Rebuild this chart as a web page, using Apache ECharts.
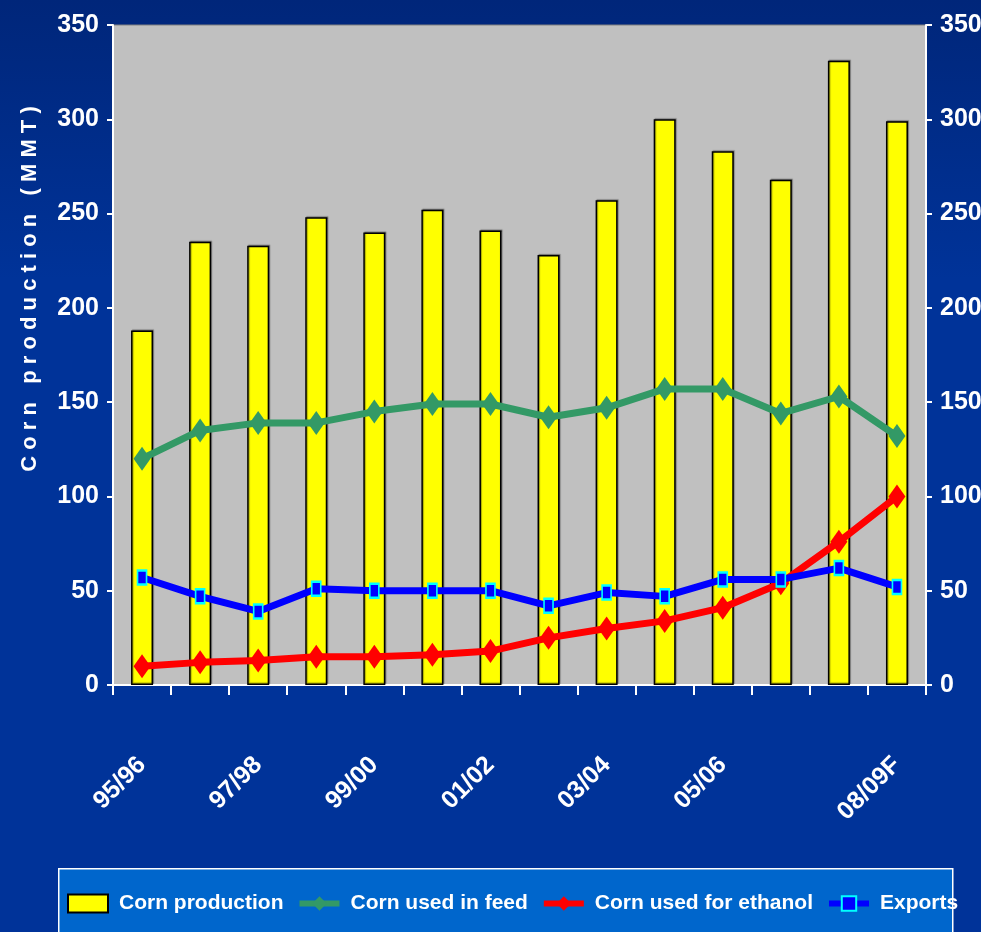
<!DOCTYPE html>
<html>
<head>
<meta charset="utf-8">
<script src="https://cdn.jsdelivr.net/npm/echarts@6/dist/echarts.min.js"></script>
<style>
  html, body { margin: 0; padding: 0; overflow: hidden; }
  #chart { width: 981px; height: 932px; }
</style>
</head>
<body>
<div id="chart"></div>
<script>
const seasons = ['95/96', '96/97', '97/98', '98/99', '99/00', '00/01', '01/02',
  '02/03', '03/04', '04/05', '05/06', '06/07', '07/08', '08/09F']
const production = [188, 235, 233, 248, 240, 252, 241, 228, 257, 300, 283, 268, 331, 299]
const feed = [120, 135, 139, 139, 145, 149, 149, 142, 147, 157, 157, 144, 153, 132]
const ethanol = [10, 12, 13, 15, 15, 16, 18, 25, 30, 34, 41, 54, 76, 100]
const exportsData = [57, 47, 39, 51, 50, 50, 50, 42, 49, 47, 56, 56, 62, 52]
const yTicks = [0, 50, 100, 150, 200, 250, 300, 350]

const FONT = '"Liberation Sans", Arial, sans-serif'
// labels shown in the original: every other season plus the last one
const shownLabels = ['95/96', '97/98', '99/00', '01/02', '03/04', '05/06', '08/09F']

const chart = echarts.init(document.getElementById('chart'))

const yAxisBase = {
  type: 'value',
  min: yTicks[0],
  max: yTicks[yTicks.length - 1],
  interval: 50,
  splitLine: { show: false },
  axisLine: { show: true, lineStyle: { color: '#ffffff', width: 2 } },
  axisTick: { show: true, length: 6, lineStyle: { color: '#ffffff', width: 2 } },
  axisLabel: {
    color: '#ffffff', fontSize: 25, fontWeight: 'bold', fontFamily: FONT, margin: 14
  }
}

chart.setOption({
  backgroundColor: {
    type: 'linear', x: 0, y: 0, x2: 0, y2: 1,
    colorStops: [
      { offset: 0, color: '#00267a' },
      { offset: 0.3, color: '#003399' },
      { offset: 1, color: '#003399' }
    ]
  },
  graphic: [
    {
      type: 'rect',
      left: 58, top: 868,
      shape: { width: 894, height: 80 },
      style: { fill: '#0066cc', stroke: '#ffffff', lineWidth: 1.5 },
      z: 0
    },
    {
      type: 'text',
      x: 30, y: 289,
      rotation: Math.PI / 2,
      style: {
        text: 'C o r n   p r o d u c t i o n   ( M M T )',
        fill: '#ffffff',
        font: 'bold 22px ' + FONT,
        align: 'center',
        verticalAlign: 'middle'
      }
    }
  ],
  legend: {
    left: 62,
    top: 888,
    itemWidth: 40,
    itemHeight: 18,
    itemGap: 13,
    lineStyle: { width: 6 },
    textStyle: {
      color: '#ffffff', fontSize: 21, fontWeight: 'bold', fontFamily: FONT,
      padding: [0, 0, 0, 6]
    },
    data: [
      { name: 'Corn production', icon: 'rect' },
      'Corn used in feed',
      'Corn used for ethanol',
      'Exports'
    ]
  },
  grid: {
    left: 113,
    right: 55,
    top: 25,
    bottom: 247,
    outerBoundsMode: 'none',
    containLabel: false,
    show: true,
    backgroundColor: '#c0c0c0',
    borderColor: '#808080',
    borderWidth: 1
  },
  xAxis: {
    type: 'category',
    data: seasons,
    axisLine: { show: true, lineStyle: { color: '#ffffff', width: 2 } },
    axisTick: { show: true, interval: 0, length: 10, lineStyle: { color: '#ffffff', width: 2 } },
    axisLabel: {
      color: '#ffffff',
      fontSize: 25,
      fontWeight: 'bold',
      fontFamily: FONT,
      rotate: 45,
      margin: 76,
      interval: (i, v) => shownLabels.indexOf(v) !== -1
    }
  },
  yAxis: [
    Object.assign({}, yAxisBase, { position: 'left' }),
    Object.assign({}, yAxisBase, { position: 'right' })
  ],
  series: [
    {
      name: 'Corn production',
      type: 'bar',
      data: production,
      barWidth: 22,
      itemStyle: {
        color: '#ffff00',
        borderColor: '#000000',
        borderWidth: 1.5,
        shadowColor: 'rgba(0,0,0,0.35)',
        shadowOffsetX: 1,
        shadowOffsetY: -1,
        shadowBlur: 1
      },
      z: 2
    },
    {
      name: 'Corn used in feed',
      type: 'line',
      data: feed,
      symbol: 'diamond',
      symbolSize: [17, 24],
      lineStyle: { color: '#339966', width: 7 },
      itemStyle: { color: '#339966' },
      z: 3
    },
    {
      name: 'Corn used for ethanol',
      type: 'line',
      data: ethanol,
      symbol: 'diamond',
      symbolSize: [17, 24],
      lineStyle: { color: '#ff0000', width: 7 },
      itemStyle: { color: '#ff0000' },
      z: 4
    },
    {
      name: 'Exports',
      type: 'line',
      data: exportsData,
      symbol: 'rect',
      symbolSize: [9, 14],
      lineStyle: { color: '#0000ff', width: 7 },
      itemStyle: { color: '#0000ff', borderColor: '#00ffff', borderWidth: 2 },
      z: 5
    }
  ],
  animation: false
})
</script>
</body>
</html>
